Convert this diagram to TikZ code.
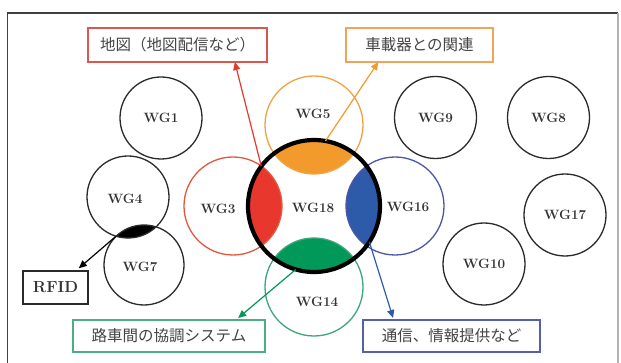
\documentclass[tikz,border=0pt]{standalone}
\usepackage{fontspec}
\newfontfamily\jpfont{Noto Sans CJK JP}
\usetikzlibrary{arrows.meta,calc}
\definecolor{txt}{HTML}{333333}
\definecolor{jptxt}{HTML}{444444}
\definecolor{circ}{HTML}{2A2A2A}
\definecolor{fred}{HTML}{E8382E}
\definecolor{forange}{HTML}{F39A2C}
\definecolor{fblue}{HTML}{2D5BAA}
\definecolor{fgreen}{HTML}{00995A}
\definecolor{lred}{HTML}{E2583F}
\definecolor{lorange}{HTML}{F2A145}
\definecolor{lblue}{HTML}{4B57A6}
\definecolor{lgreen}{HTML}{3DA67B}
\definecolor{bred}{HTML}{D85850}
\definecolor{borange}{HTML}{F0A45A}
\definecolor{bgreen}{HTML}{4CAD85}
\definecolor{bblue}{HTML}{5560A8}
\newcommand{\wgfont}{\fontsize{13.5}{15}\selectfont\bfseries}
\tikzset{
  wg/.style={circle, draw=circ, line width=1.3pt, minimum size=82pt, inner sep=0pt, outer sep=0pt, font=\wgfont, text=txt},
  bigwg/.style={wg, minimum size=98pt},
  wglabel/.style={font=\wgfont, text=txt, inner sep=0pt},
  tagbox/.style={draw, line width=1.5pt, font=\jpfont\fontsize{15.5}{18}\selectfont, text=jptxt, inner sep=0pt, outer sep=0pt},
  link/.style={line width=1.2pt, -{Triangle[length=8pt,width=7pt]}}
}
\begin{document}
\begin{tikzpicture}[x=1pt,y=-1pt]
\useasboundingbox (0,0) rectangle (621,363);
\fill[white] (0,0) rectangle (621,363);
% frame
\draw[line width=1.4pt, color=black!75] (7.5,363) -- (7.5,13) -- (618,13);
\draw[line width=1.4pt, color=black!30] (618,13) -- (618,363);

% circle nodes (outlines drawn later)
\path (314,206) node[circle, minimum size=132pt, inner sep=0pt, outer sep=0pt] (WG18) {};
\path (314,125) node[bigwg, draw=none] (WG5) {};
\path (233,206) node[bigwg, draw=none] (WG3) {};
\path (395,206) node[bigwg, draw=none] (WG16) {};
\path (314,287) node[bigwg, draw=none] (WG14) {};

% lens fills
\begin{scope}\clip (WG18.center) circle (66pt); \fill[forange] (WG5.center) circle (49pt); \end{scope}
\begin{scope}\clip (WG18.center) circle (66pt); \fill[fred] (WG3.center) circle (49pt); \end{scope}
\begin{scope}\clip (WG18.center) circle (66pt); \fill[fblue] (WG16.center) circle (49pt); \end{scope}
\begin{scope}\clip (WG18.center) circle (66pt); \fill[fgreen] (WG14.center) circle (49pt); \end{scope}
\begin{scope}\clip (128,197) circle (41pt); \fill[black] (144,265) circle (40pt); \end{scope}

% coloured circles
\draw[lorange, line width=1.3pt] (WG5.center) circle (49pt);
\draw[lred, line width=1.3pt] (WG3.center) circle (49pt);
\draw[lblue, line width=1.3pt] (WG16.center) circle (49pt);
\draw[lgreen, line width=1.3pt] (WG14.center) circle (49pt);
\draw[black, line width=4.2pt] (WG18.center) circle (66pt);

% black circles
\node[wg] (WG1) at (161,118) {WG1};
\node[wg] (WG9) at (435.5,117.5) {WG9};
\node[wg] (WG8) at (548.5,117.5) {WG8};
\node[wg] (WG4) at (128,197) {};
\node[wg, minimum size=80pt] (WG7) at (144,265) {};
\node[wg] (WG10) at (484,264) {WG10};
\node[wg] (WG17) at (565,215) {WG17};

% labels
\node[wglabel] at (125,199) {WG4};
\node[wglabel] at (140,267) {WG7};
\node[wglabel] at (313,114) {WG5};
\node[wglabel] at (218,209) {WG3};
\node[wglabel] at (313,208) {WG18};
\node[wglabel] at (408,207) {WG16};
\node[wglabel] at (317,302) {WG14};

% boxes
\node[tagbox, draw=bred, minimum width=179pt, minimum height=34pt] (tmap) at (177.5,45) {地図（地図配信など）};
\node[tagbox, draw=borange, minimum width=147pt, minimum height=34pt] (tcar) at (419.5,45) {車載器との関連};
\node[tagbox, draw=bgreen, minimum width=192pt, minimum height=32pt] (troad) at (169,336) {路車間の協調システム};
\node[tagbox, draw=bblue, minimum width=177pt, minimum height=32pt] (tcom) at (451.5,336) {通信、情報提供など};
\node[draw=circ, line width=1.5pt, font=\fontsize{16}{18}\selectfont\bfseries, text=txt, minimum width=65pt, minimum height=33pt, inner sep=0pt] (rfid) at (55.5,287.5) {RFID};

% connectors
\draw[link, color=fred] (WG18.143) -- ($(tmap.south west)!0.82!(tmap.south east)$);
\draw[link, color=forange] (WG18.80) -- ($(tcar.south west)!0.22!(tcar.south east)$);
\draw[link, color=fblue] (WG18.-33) -- ($(tcom.north west)!0.17!(tcom.north east)+(0,-2)$);
\draw[link, color=fgreen] (WG18.254) -- ($(troad.north west)!0.86!(troad.north east)+(0,-2)$);
\draw[link, color=black] (WG4.253) -- ($(rfid.north west)!0.85!(rfid.north east)+(0,-2)$);
\end{tikzpicture}
\end{document}
